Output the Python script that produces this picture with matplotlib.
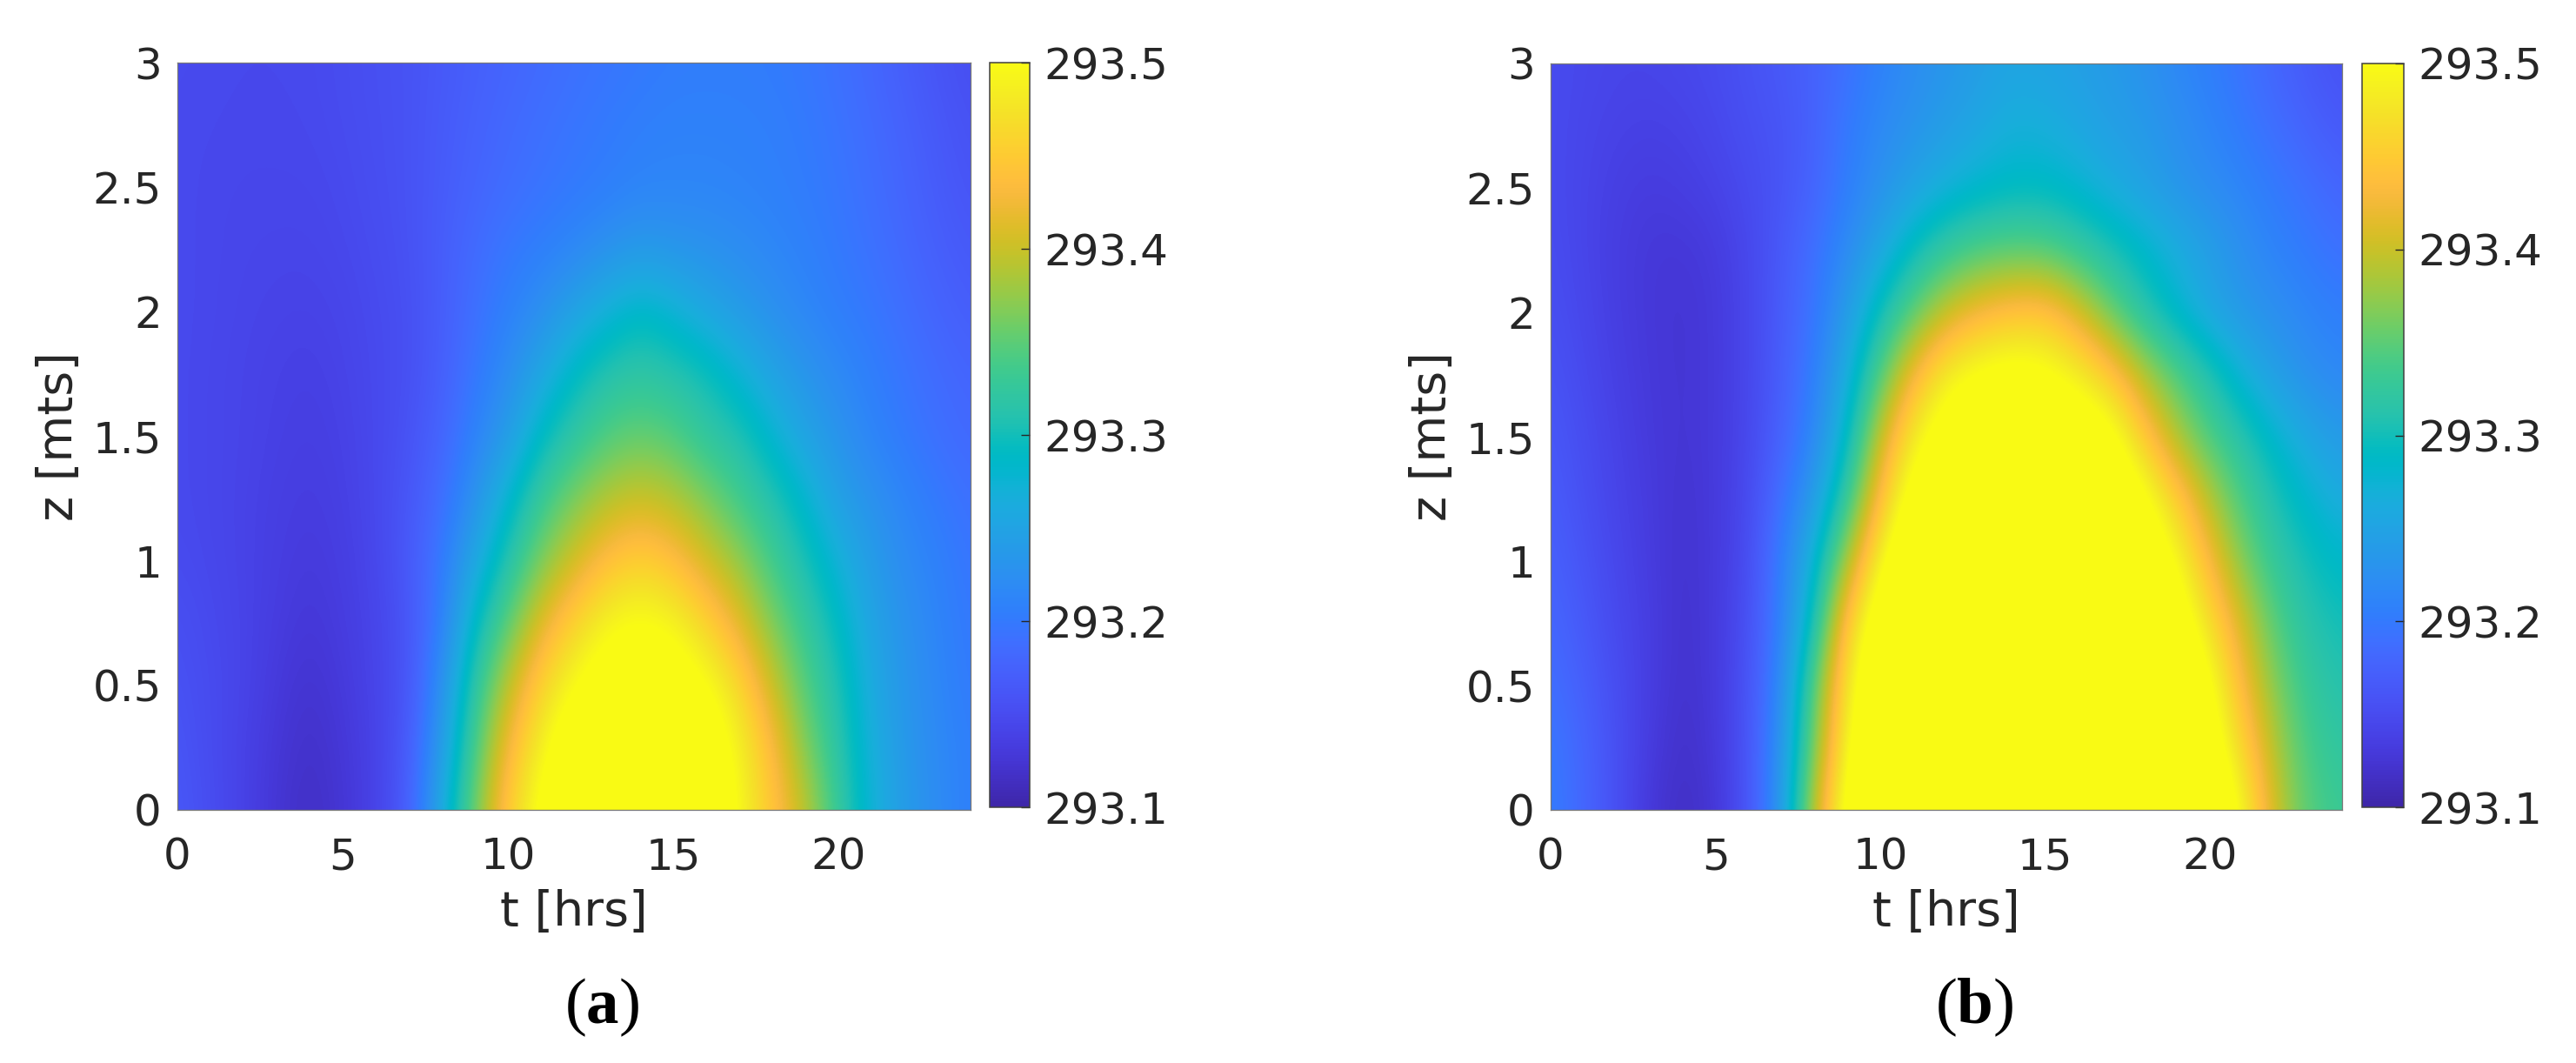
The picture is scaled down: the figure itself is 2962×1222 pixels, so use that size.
import numpy as np
import matplotlib
matplotlib.use("Agg")
import matplotlib.pyplot as plt
from matplotlib.colors import LinearSegmentedColormap, Normalize

W, H = 2962, 1222
plt.rcParams['font.family'] = 'DejaVu Sans'
plt.rcParams['mathtext.fontset'] = 'custom'
plt.rcParams['mathtext.rm'] = 'Liberation Serif'
plt.rcParams['mathtext.bf'] = 'Liberation Serif:bold'

t_hours = list(range(25))
z_levels = [0, .25, .5, .75, 1, 1.25, 1.5, 1.75, 2, 2.25, 2.5, 2.75, 3]
T_BASE = 293.0

# Temperature above 293 K in mK: one list per height z, one value per hour.
# Values above 500 are saturated in the picture (clipped to the top colour).
a_z000 = [165,152,140,125,115,125,140,170,260,360,455,510,560,590,600,585,550,495,445,395,325,270,240,220,205]
a_z025 = [162,150,140,127,118,127,140,165,240,340,430,490,535,565,575,560,530,490,435,365,315,265,235,218,205]
a_z050 = [158,150,142,130,122,130,142,160,225,320,395,460,500,525,535,525,505,465,400,345,305,258,232,215,200]
a_z075 = [155,148,142,133,127,133,143,160,205,290,350,415,460,495,505,495,460,415,365,325,290,250,228,212,198]
a_z100 = [150,146,141,135,130,135,145,165,200,255,310,365,405,440,458,440,405,375,335,303,270,240,220,208,195]
a_z125 = [148,145,141,136,133,137,147,162,188,228,280,330,365,390,402,390,365,335,310,280,245,228,212,200,190]
a_z150 = [148,145,142,138,135,139,147,158,178,210,240,290,320,345,355,345,320,308,278,250,230,212,200,190,182]
a_z175 = [148,145,142,139,137,141,148,155,172,198,222,255,290,312,320,312,300,275,250,232,218,205,195,185,178]
a_z200 = [148,146,143,141,140,143,149,155,170,190,208,225,250,272,290,275,255,240,226,215,205,198,188,178,170]
a_z225 = [148,146,144,143,143,146,151,157,170,185,198,206,215,228,238,232,228,222,215,208,200,192,182,172,165]
a_z250 = [148,146,145,145,145,148,153,158,168,178,187,194,200,205,212,213,213,211,208,203,197,188,178,168,160]
a_z275 = [148,147,146,146,147,150,154,158,167,175,183,190,196,201,206,209,209,208,206,201,194,185,175,165,157]
a_z300 = [149,148,147,147,148,151,155,158,165,172,178,184,190,195,199,203,204,204,202,197,190,180,170,160,153]

b_z000 = [205,180,155,128,115,125,160,230,400,520,600,640,660,670,670,670,660,650,630,610,565,495,400,345,330]
b_z025 = [200,178,155,132,118,128,160,225,365,495,580,625,650,660,665,665,660,645,625,590,525,460,385,335,320]
b_z050 = [190,172,152,135,120,130,158,215,350,480,560,610,640,650,660,655,650,635,605,565,510,430,365,325,310]
b_z075 = [182,165,148,135,121,130,155,205,300,455,535,590,625,645,650,650,640,615,580,530,470,405,345,312,300]
b_z100 = [175,160,145,133,122,130,150,205,275,385,495,560,600,625,635,625,605,570,540,500,430,365,322,300,285]
b_z125 = [170,155,142,132,123,130,148,190,240,325,440,525,565,590,600,590,565,545,515,455,390,338,305,280,260]
b_z150 = [165,152,140,130,125,130,146,175,215,285,400,485,525,545,555,545,535,520,450,385,340,312,280,255,238]
b_z175 = [160,148,137,129,125,130,145,170,205,262,345,430,490,510,520,510,490,450,390,345,310,270,243,225,215]
b_z200 = [155,145,135,128,125,130,145,168,195,240,298,350,400,430,445,450,410,355,310,280,252,235,225,213,205]
b_z225 = [152,143,134,128,127,132,146,165,190,220,255,295,325,342,348,345,325,305,285,265,245,225,210,200,190]
b_z250 = [150,143,136,132,135,140,150,160,178,205,228,250,268,280,288,288,278,262,248,232,222,212,200,190,178]
b_z275 = [150,144,140,138,140,146,155,160,175,200,218,230,243,255,268,265,255,245,238,225,213,200,188,175,165]
b_z300 = [150,146,143,143,146,150,158,165,175,190,208,222,232,243,252,250,245,238,228,215,205,192,178,165,157]

panel_a = [a_z000,a_z025,a_z050,a_z075,a_z100,a_z125,a_z150,a_z175,a_z200,a_z225,a_z250,a_z275,a_z300]
panel_b = [b_z000,b_z025,b_z050,b_z075,b_z100,b_z125,b_z150,b_z175,b_z200,b_z225,b_z250,b_z275,b_z300]

x_ticks = [0, 5, 10, 15, 20]
y_ticks = [0, .5, 1, 1.5, 2, 2.5, 3]
y_ticklabels = ['0', '0.5', '1', '1.5', '2', '2.5', '3']
cb_ticks = [293.1, 293.2, 293.3, 293.4, 293.5]
captions = ['a', 'b']

parula = [
 (0.2422,0.1504,0.6603),(0.2504,0.1650,0.7076),(0.2578,0.1818,0.7511),(0.2647,0.1978,0.7952),
 (0.2706,0.2147,0.8364),(0.2751,0.2342,0.8710),(0.2783,0.2559,0.8991),(0.2803,0.2782,0.9221),
 (0.2813,0.3006,0.9414),(0.2810,0.3228,0.9579),(0.2795,0.3447,0.9717),(0.2760,0.3667,0.9829),
 (0.2699,0.3892,0.9906),(0.2602,0.4123,0.9952),(0.2440,0.4358,0.9988),(0.2206,0.4603,0.9973),
 (0.1963,0.4847,0.9892),(0.1834,0.5074,0.9798),(0.1786,0.5289,0.9682),(0.1764,0.5499,0.9520),
 (0.1687,0.5703,0.9359),(0.1540,0.5902,0.9218),(0.1460,0.6091,0.9079),(0.1380,0.6276,0.8973),
 (0.1248,0.6459,0.8883),(0.1113,0.6635,0.8763),(0.0952,0.6798,0.8598),(0.0689,0.6948,0.8394),
 (0.0297,0.7082,0.8163),(0.0036,0.7203,0.7917),(0.0067,0.7312,0.7660),(0.0433,0.7411,0.7394),
 (0.0964,0.7500,0.7120),(0.1408,0.7584,0.6842),(0.1717,0.7670,0.6554),(0.1938,0.7758,0.6251),
 (0.2161,0.7843,0.5923),(0.2470,0.7918,0.5567),(0.2906,0.7973,0.5188),(0.3406,0.8008,0.4789),
 (0.3909,0.8029,0.4354),(0.4456,0.8024,0.3909),(0.5044,0.7993,0.3480),(0.5616,0.7942,0.3045),
 (0.6174,0.7876,0.2612),(0.6720,0.7793,0.2227),(0.7242,0.7698,0.1910),(0.7738,0.7598,0.1646),
 (0.8203,0.7498,0.1535),(0.8634,0.7406,0.1596),(0.9035,0.7330,0.1774),(0.9393,0.7288,0.2100),
 (0.9728,0.7298,0.2394),(0.9956,0.7434,0.2371),(0.9970,0.7659,0.2199),(0.9952,0.7893,0.2028),
 (0.9892,0.8136,0.1885),(0.9786,0.8386,0.1766),(0.9676,0.8639,0.1643),(0.9610,0.8890,0.1537),
 (0.9597,0.9135,0.1423),(0.9628,0.9373,0.1265),(0.9691,0.9606,0.1064),(0.9769,0.9839,0.0805)]
cmap = LinearSegmentedColormap.from_list('parula', parula, N=256)
norm = Normalize(293.1, 293.5)

TEXT = '#262626'
TICK_PT = 36
LABEL_PT = 40


def px_axes(fig, x0, x1, y0, y1):
    return fig.add_axes([x0 / W, 1 - y1 / H, (x1 - x0) / W, (y1 - y0) / H])


fig = plt.figure(figsize=(W / 100, H / 100), dpi=100, facecolor='white')

layouts = [
    dict(ax=(204, 1116, 72, 931), cb=(1138, 1184, 72, 928), cap=692),
    dict(ax=(1783, 2693, 73, 931), cb=(2716, 2764, 73, 928), cap=2270),
]

for data, lay, cap in zip((panel_a, panel_b), layouts, captions):
    ax = px_axes(fig, *lay['ax'])
    arr = T_BASE + np.asarray(data, float) / 1000
    dt = t_hours[1] - t_hours[0]
    dz = z_levels[1] - z_levels[0]
    im = ax.imshow(arr, origin='lower', aspect='auto', cmap=cmap, norm=norm,
                   interpolation='bicubic', interpolation_stage='data',
                   extent=(t_hours[0] - dt / 2, t_hours[-1] + dt / 2,
                           z_levels[0] - dz / 2, z_levels[-1] + dz / 2))
    ax.set_xlim(0, 24)
    ax.set_ylim(0, 3)
    ax.set_xticks(x_ticks)
    ax.set_yticks(y_ticks, y_ticklabels)
    ax.tick_params(axis='x', length=0, pad=22, labelsize=TICK_PT, labelcolor=TEXT)
    ax.tick_params(axis='y', length=0, pad=13, labelsize=TICK_PT, labelcolor=TEXT)
    ax.set_xlabel('t [hrs]', fontsize=LABEL_PT, color=TEXT, labelpad=9)
    ax.set_ylabel('z [mts]', fontsize=LABEL_PT, color=TEXT, labelpad=8)
    for s in ax.spines.values():
        s.set_linewidth(0.9)
        s.set_color('#777777')

    cax = px_axes(fig, *lay['cb'])
    cb = fig.colorbar(im, cax=cax, ticks=cb_ticks)
    cb.ax.set_yticklabels([f'{v:.1f}' for v in cb_ticks])
    cb.ax.tick_params(direction='in', length=7, width=1.0, color='#262626',
                      labelsize=TICK_PT, labelcolor=TEXT, pad=12)
    cb.outline.set_linewidth(1.1)
    cb.outline.set_edgecolor('#404040')

    fig.text(lay['cap'] / W, 1 - 1157 / H, r'$\mathrm{(}\mathbf{' + cap + r'}\mathrm{)}$',
             fontsize=54, color='black', ha='center', va='center')

fig.savefig('out.png', dpi=100, facecolor='white')
